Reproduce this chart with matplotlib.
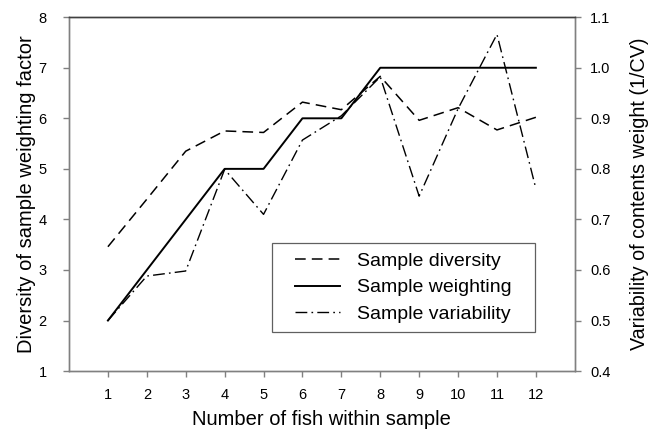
import numpy as np
from matplotlib import pyplot as plt
from matplotlib.lines import Line2D
from matplotlib.patches import Rectangle

plt.rcParams['font.family'] = ['Liberation Sans', 'DejaVu Sans']

n_fish = [1, 2, 3, 4, 5, 6, 7, 8, 9, 10, 11, 12]
# left axis
diversity = [3.46, 4.40, 5.35, 5.75, 5.72, 6.32, 6.17, 6.83, 5.96, 6.21, 5.77, 6.02]
weighting = [2, 3, 4, 5, 5, 6, 6, 7, 7, 7, 7, 7]
# right axis (1/CV)
variability = [0.50, 0.588, 0.598, 0.799, 0.710, 0.857, 0.905, 0.982, 0.746, 0.919, 1.066, 0.761]

spine_col = '#808080'
dash = (0, (7, 4))
dashdot = (0, (8.5, 3, 1.2, 3))

fig = plt.figure(figsize=(6.48, 4.30), dpi=100)
ax = fig.add_axes([0.1065, 0.137, 0.7805, 0.823])
ax2 = ax.twinx()

ax.plot(n_fish, diversity, color='black', lw=1.1, linestyle=dash)
ax.plot(n_fish, weighting, color='black', lw=1.4, linestyle='-')
ax2.plot(n_fish, variability, color='black', lw=1.0, linestyle=dashdot)

ax.set_xlim(0, 13)
ax.set_ylim(1, 8)
ax2.set_ylim(0.4, 1.1)
ax.set_xticks(n_fish)
ax.set_yticks(range(1, 9))
ax2.set_yticks(np.arange(0.4, 1.11, 0.1))
ax2.set_yticklabels(['0.4', '0.5', '0.6', '0.7', '0.8', '0.9', '1.0', '1.1'])

for a in (ax, ax2):
    for s in a.spines.values():
        s.set_color(spine_col)
        s.set_linewidth(1.0)
    a.spines['top'].set_color('#404040')
    a.tick_params(direction='out', length=4, width=1.0, color=spine_col, labelsize=10.5)
ax.tick_params(axis='y', pad=12)
ax.tick_params(axis='x', pad=8)
ax2.tick_params(axis='y', pad=7)

ax.set_xlabel('Number of fish within sample', fontsize=14.5, labelpad=6)
ax.set_ylabel('Diversity of sample weighting factor', fontsize=14.5, labelpad=2)
ax2.set_ylabel('Variability of contents weight (1/CV)', fontsize=14.2, labelpad=14)

handles = [Line2D([], [], color='black', lw=1.1, linestyle=dash),
           Line2D([], [], color='black', lw=1.4, linestyle='-'),
           Line2D([], [], color='black', lw=1.0, linestyle=dashdot)]
leg = ax.legend(handles, ['Sample diversity', 'Sample weighting', 'Sample variability'],
                loc='center', bbox_to_anchor=(0.661, 0.236), fontsize=14,
                frameon=False, handlelength=2.3, handletextpad=0.9,
                borderpad=0.0, labelspacing=0.45)
ax.add_patch(Rectangle((0.401, 0.110), 0.520, 0.252, transform=ax.transAxes,
                       fill=False, edgecolor='#606060', lw=0.9, zorder=5))

fig.savefig('out.png', dpi=100)
